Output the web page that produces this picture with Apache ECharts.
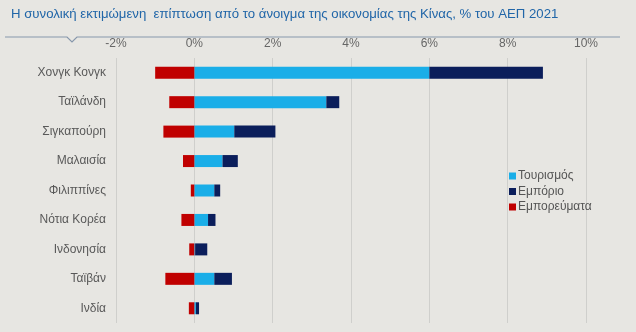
<!DOCTYPE html>
<html><head><meta charset="utf-8">
<script src="https://cdn.jsdelivr.net/npm/echarts@6/dist/echarts.min.js"></script>
<style>html,body{margin:0;padding:0;background:#e7e6e2;}#c{width:636px;height:332px;}</style>
</head><body><div id="c"></div>
<script>
var categories = ['Χονγκ Κονγκ','Ταϊλάνδη','Σιγκαπούρη','Μαλαισία','Φιλιππίνες','Νότια Κορέα','Ινδονησία','Ταϊβάν','Ινδία'];
var tourism = [6.0, 3.37, 1.02, 0.72, 0.51, 0.35, 0.02, 0.51, 0.04];
var trade = [2.9, 0.33, 1.05, 0.39, 0.15, 0.19, 0.31, 0.45, 0.08];
var commodities = [-1.0, -0.64, -0.79, -0.29, -0.09, -0.33, -0.13, -0.74, -0.14];
var seriesNames = ['Τουρισμός','Εμπόριο','Εμπορεύματα'];
var titleText = 'Η συνολική εκτιμώμενη  επίπτωση από το άνοιγμα της οικονομίας της Κίνας, % του ΑΕΠ 2021';

var chart = echarts.init(document.getElementById('c'));
var barW = 12;
chart.setOption({
  backgroundColor: '#e7e6e2',
  animation: false,
  title: {text: titleText, left: 6, top: 3, textStyle: {fontFamily: 'Liberation Sans Narrow, Arial Narrow, Liberation Sans', fontSize: 13.2, fontWeight: 'normal', color: '#2166a8'}},
  graphic: [{type: 'polyline', shape: {points: [[5,37],[67,37],[72,42],[77,37],[620,37]]}, style: {stroke: '#8797ab', lineWidth: 1.2, fill: null}}],
  legend: {orient: 'vertical', left: 504, top: 165, itemWidth: 7, itemHeight: 7, itemGap: 3.5, icon: 'rect',
    textStyle: {fontFamily: 'Liberation Sans', fontSize: 12, color: '#555', padding: [0,0,0,-3]}, data: seriesNames},
  grid: {left: 116, right: 50, top: 58, bottom: 9, containLabel: false},
  xAxis: {type: 'value', position: 'top', min: -2, max: 10, interval: 2,
    axisLine: {show: false}, axisTick: {show: false},
    axisLabel: {formatter: '{value}%', color: '#666', fontSize: 12, fontFamily: 'Liberation Sans Narrow, Liberation Sans', margin: 8},
    splitLine: {lineStyle: {color: '#cfcfcc', width: 1}}},
  yAxis: {type: 'category', inverse: true, data: categories,
    axisLine: {show: false}, axisTick: {show: false},
    axisLabel: {color: '#595959', fontSize: 12, fontFamily: 'Liberation Sans', margin: 10}},
  series: [
    {name: seriesNames[0], type: 'bar', stack: 's', data: tourism, barWidth: barW, itemStyle: {color: '#1aaee8'}},
    {name: seriesNames[1], type: 'bar', stack: 's', data: trade, barWidth: barW, itemStyle: {color: '#0b1e5b'}},
    {name: seriesNames[2], type: 'bar', stack: 's', data: commodities, barWidth: barW, itemStyle: {color: '#c00000'}}
  ]
});
</script></body></html>
